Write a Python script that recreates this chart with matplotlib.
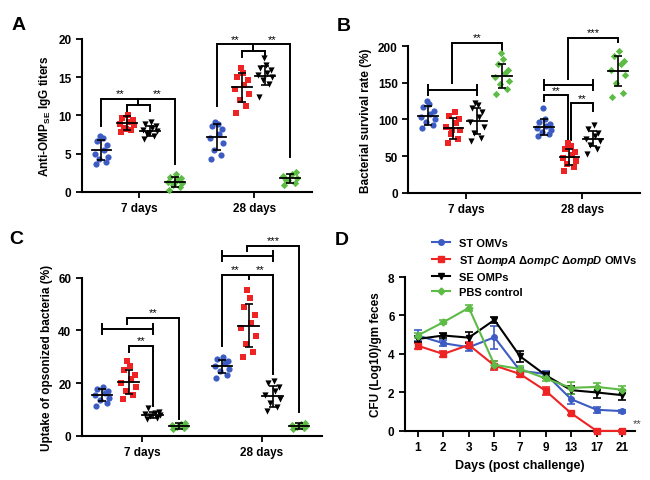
import numpy as np
import matplotlib.pyplot as plt
from matplotlib.lines import Line2D

plt.rcParams['font.family'] = ['Liberation Sans', 'DejaVu Sans']
plt.rcParams['font.weight'] = 'bold'
plt.rcParams['axes.labelweight'] = 'bold'
plt.rcParams['mathtext.fontset'] = 'custom'
plt.rcParams['mathtext.rm'] = 'Liberation Sans:bold'
plt.rcParams['mathtext.bf'] = 'Liberation Sans:bold'
plt.rcParams['mathtext.it'] = 'Liberation Sans:italic:bold'

# groups: ST OMVs, ST triple mutant OMVs, SE OMPs, PBS control
colors = ['#3c5cc4', '#ee2424', 'black', '#5dbb46']
markers = ['o', 's', 'v', 'D']
days = ['7 days', '28 days']

# Panel A - anti-OMP_SE IgG titers (points per group, 7 days / 28 days)
igg_7d = [[3.6, 3.9, 4.3, 4.6, 5.0, 5.5, 6.1, 6.6, 7.0, 7.3],
          [7.8, 8.1, 8.4, 8.7, 8.9, 9.1, 9.4, 9.7, 10.0, 8.2],
          [6.9, 7.3, 7.6, 7.9, 8.1, 8.3, 8.6, 8.9, 9.2, 7.7],
          [0.3, 0.6, 0.9, 1.1, 1.3, 1.5, 1.8, 2.0, 2.3, 1.2]]
igg_28d = [[4.3, 4.8, 5.5, 6.4, 7.0, 7.6, 8.2, 8.6, 8.9, 9.1],
           [10.3, 11.2, 12.0, 12.8, 13.4, 14.0, 14.6, 15.0, 15.6, 16.2],
           [12.4, 14.1, 14.6, 15.0, 15.3, 15.6, 15.9, 16.2, 16.6, 17.5],
           [0.9, 1.2, 1.5, 1.8, 2.1, 2.4, 2.6, 1.6]]
igg_mean = [[5.5, 9.0, 8.0, 1.3], [7.2, 13.7, 15.2, 1.8]]
igg_sd = [[1.3, 0.9, 0.65, 0.7], [1.7, 1.9, 1.2, 0.6]]

# Panel B - bacterial survival rate (%)
surv_7d = [[88, 92, 96, 100, 104, 108, 112, 117, 121, 125],
           [68, 74, 80, 85, 90, 95, 100, 105, 110, 86],
           [70, 75, 82, 90, 97, 104, 110, 116, 120, 122],
           [135, 142, 148, 153, 158, 163, 168, 175, 182, 190]]
surv_28d = [[78, 80, 83, 86, 89, 91, 94, 97, 100, 115],
            [30, 35, 40, 44, 48, 52, 56, 60, 64, 68],
            [53, 60, 65, 70, 74, 78, 82, 87, 92],
            [130, 136, 150, 160, 168, 175, 180, 187, 193]]
surv_mean = [[105, 88, 98, 159], [90, 49, 74, 166]]
surv_sd = [[13, 14, 18, 16], [11, 11, 10, 21]]

# Panel C - uptake of opsonized bacteria (%)
upt_7d = [[11.5, 12.5, 13.5, 14.5, 15.5, 16.3, 17.0, 17.8, 18.5],
          [14, 15.5, 17, 18.5, 20, 21.5, 23, 25, 26.5, 28.5],
          [6.5, 7.0, 7.5, 8.0, 8.3, 8.7, 9.2, 10.5],
          [2.5, 3.0, 3.5, 3.8, 4.2, 4.6, 5.0]]
upt_28d = [[22, 23, 24.5, 25.5, 26.5, 27.5, 28.5, 29.3, 30],
           [30, 32, 35, 38, 41, 43, 46, 49, 52.5, 55.5],
           [9.5, 11, 12.5, 14, 15.5, 17, 18.5, 20, 21],
           [2.5, 3.0, 3.5, 3.8, 4.2, 4.6, 5.0]]
upt_mean = [[15.5, 20.5, 8.0, 3.8], [26.5, 41.8, 15.0, 3.8]]
upt_sd = [[2.2, 4.5, 1.0, 1.0], [2.5, 8.2, 4.0, 1.0]]

# Panel D - CFU in feces
cfu_days = ['1', '2', '3', '5', '7', '9', '13', '17', '21']
cfu_labels = ['ST OMVs', 'ST Δ$\\mathit{ompA}$ Δ$\\mathit{ompC}$ Δ$\\mathit{ompD}$ OMVs',
              'SE OMPs', 'PBS control']
cfu_mean = [[4.96, 4.56, 4.35, 4.87, 3.13, 2.96, 1.65, 1.10, 1.03],
            [4.43, 4.00, 4.47, 3.40, 2.96, 2.09, 0.92, 0.0, 0.0],
            [4.78, 4.96, 4.85, 5.77, 3.88, 2.90, 2.12, 2.00, 1.86],
            [4.96, 5.65, 6.40, 3.44, 3.22, 2.73, 2.24, 2.29, 2.14]]
cfu_err = [[0.30, 0.15, 0.20, 0.60, 0.15, 0.15, 0.25, 0.15, 0.08],
           [0.15, 0.15, 0.15, 0.25, 0.15, 0.20, 0.10, 0.05, 0.05],
           [0.15, 0.15, 0.30, 0.15, 0.30, 0.15, 0.20, 0.30, 0.25],
           [0.15, 0.10, 0.15, 0.20, 0.15, 0.15, 0.30, 0.20, 0.20]]

offsets = [-0.33, -0.11, 0.09, 0.31]
jitter = np.array([-0.05, 0.04, -0.02, 0.06, -0.06, 0.02, 0.05, -0.04, 0.01, -0.01])
star_kw = dict(xytext=(0, 0.5), textcoords='offset points', ha='center', va='bottom',
               fontsize=8, fontweight='normal', annotation_clip=False)


def style_axes(ax):
    for s in ['top', 'right']:
        ax.spines[s].set_visible(False)
    for s in ['left', 'bottom']:
        ax.spines[s].set_linewidth(1.5)
    ax.tick_params(direction='out', length=4, width=1.3, labelsize=8.5)


def gx(d, g):
    return d + offsets[g]


def dot_panel(ax, pts, means, sds, ymax, ystep, ylabel):
    for d in range(2):
        for g in range(4):
            vals = pts[d][g]
            x = gx(d, g) + jitter[:len(vals)]
            ax.scatter(x, vals, s=14 if g == 3 else 20, c=colors[g], marker=markers[g],
                       linewidths=0, zorder=3, clip_on=False)
            xc, m = gx(d, g), means[d][g]
            ax.plot([xc - 0.085, xc + 0.085], [m, m], color='k', lw=1.3, zorder=4)
            ax.errorbar(xc, m, yerr=sds[d][g], color='k', capsize=3, elinewidth=1.2,
                        capthick=1.2, zorder=4)
    ax.set_xlim(-0.5, 1.5)
    ax.set_ylim(0, ymax)
    ax.set_yticks(np.arange(0, ymax + 1, ystep))
    ax.set_xticks([0, 1])
    ax.set_xticklabels(days)
    ax.set_ylabel(ylabel, fontsize=8.5)
    style_axes(ax)


def bracket(ax, xa, xb, y, ya, yb, label=None, lx=None):
    ax.plot([xa, xa, xb, xb], [ya, y, y, yb], color='k', lw=1.4, clip_on=False,
            solid_joinstyle='miter')
    if label:
        ax.annotate(label, ((xa + xb) / 2 if lx is None else lx, y), **star_kw)


def span(ax, xa, xb, y, cu, cd):
    kw = dict(color='k', lw=1.4, clip_on=False)
    ax.plot([xa, xb], [y, y], **kw)
    ax.plot([xa, xa], [y - cd, y + cu], **kw)
    ax.plot([xb, xb], [y - cd, y + cu], **kw)


fig = plt.figure(figsize=(6.5, 4.81), dpi=100)

# ---- A
ax = fig.add_axes([0.126, 0.599, 0.354, 0.318])
dot_panel(ax, [igg_7d, igg_28d], igg_mean, igg_sd, 20, 5,
          'Anti-OMP$_\\mathrm{SE}$ IgG titers')
for d, (top, le, re, sp) in enumerate([(12.2, 8.6, 3.7, 11.4), (19.3, 11.2, 4.6, 18.4)]):
    mid = (gx(d, 1) + gx(d, 2)) / 2
    bracket(ax, gx(d, 0), gx(d, 3), top, le, re)
    ax.plot([mid, mid], [top, sp], color='k', lw=1.4, clip_on=False)
    span(ax, gx(d, 1), gx(d, 2), sp, 0, 0.8)
    for lx in [(gx(d, 0) + mid) / 2, (mid + gx(d, 3)) / 2]:
        ax.annotate('**', (lx, top), **star_kw)

# ---- B
ax = fig.add_axes([0.628, 0.597, 0.357, 0.305])
dot_panel(ax, [surv_7d, surv_28d], surv_mean, surv_sd, 200, 50,
          'Bacterial survival rate (%)')
span(ax, gx(0, 0), gx(0, 2), 140, 7, 7)
bracket(ax, (gx(0, 0) + gx(0, 2)) / 2, gx(0, 3), 204, 150, 192, '**')
span(ax, gx(1, 0), gx(1, 2), 147, 7, 7)
bracket(ax, (gx(1, 0) + gx(1, 2)) / 2, gx(1, 3), 211, 155, 205, '***')
bracket(ax, gx(1, 0), gx(1, 1) - 0.012, 133, 125, 72, '**')
bracket(ax, gx(1, 1) + 0.012, gx(1, 2), 122, 72, 111, '**')

# ---- C
ax = fig.add_axes([0.126, 0.0915, 0.369, 0.329])
dot_panel(ax, [upt_7d, upt_28d], upt_mean, upt_sd, 60, 20,
          'Uptake of opsonized bacteria (%)')
span(ax, gx(0, 0), gx(0, 2), 40.7, 1.9, 1.9)
bracket(ax, gx(0, 1), gx(0, 2), 34.2, 32, 11.4, '**')
bracket(ax, (gx(0, 0) + gx(0, 2)) / 2, gx(0, 3), 44.9, 42.6, 6.5, '**')
span(ax, gx(1, 0), gx(1, 2), 68.4, 1.9, 1.9)
bracket(ax, (gx(1, 0) + gx(1, 2)) / 2, gx(1, 3), 72, 70.3, 9, '***')
bracket(ax, gx(1, 0), gx(1, 2), 61, 34, 23.5)
ax.plot([gx(1, 1), gx(1, 1)], [61, 59.5], color='k', lw=1.4, clip_on=False)
for lx in [(gx(1, 0) + gx(1, 1)) / 2, (gx(1, 1) + gx(1, 2)) / 2]:
    ax.annotate('**', (lx, 61), **star_kw)

# ---- D
ax = fig.add_axes([0.623, 0.102, 0.354, 0.32])
xs = np.arange(len(cfu_days))
handles = []
for g in range(4):
    ms = 4 if g != 3 else 3.5
    ax.errorbar(xs, cfu_mean[g], yerr=cfu_err[g], color=colors[g], marker=markers[g],
                ms=ms, lw=1.5, elinewidth=1.2, capsize=3, capthick=1.2,
                clip_on=False, zorder=3)
    handles.append(Line2D([], [], color=colors[g], marker=markers[g], ms=ms, lw=1.5,
                          label=cfu_labels[g]))
ax.set_xlim(-0.5, 8.5)
ax.set_ylim(0, 8)
ax.set_yticks([0, 2, 4, 6, 8])
ax.set_xticks(xs)
ax.set_xticklabels(cfu_days)
ax.set_xlabel('Days (post challenge)', fontsize=9)
ax.set_ylabel('CFU (Log10)/gm feces', fontsize=8.5)
style_axes(ax)
ax.text(8.4, 0.25, '**', fontsize=8, fontweight='normal', color='#444444')
ax.legend(handles=handles, loc='upper left', bbox_to_anchor=(0.1, 1.28), frameon=False,
          fontsize=8, handlelength=1.6, labelspacing=0.45, handletextpad=0.8,
          borderaxespad=0)

for lab, x, y in [('A', 0.018, 0.938), ('B', 0.518, 0.936), ('C', 0.015, 0.493),
                  ('D', 0.515, 0.491)]:
    fig.text(x, y, lab, fontsize=14, fontweight='bold', va='baseline')

fig.savefig('out.png', dpi=100)
